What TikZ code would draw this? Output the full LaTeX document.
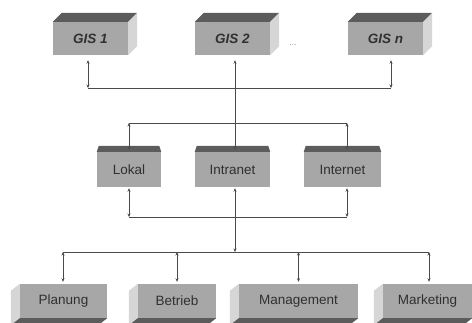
\documentclass[tikz,border=0pt]{standalone}
\usepackage{fontspec}
\setmainfont{Liberation Sans}
\usetikzlibrary{arrows.meta,calc}
\definecolor{frontc}{HTML}{A7A7A7}
\definecolor{darkc}{HTML}{5C5C5C}
\definecolor{lightc}{HTML}{D6D6D6}
\definecolor{textc}{HTML}{303030}
\definecolor{linec}{HTML}{4A4A4A}
\newcommand\gisfaces[1]{%
  \fill[darkc] (#1.north west) -- ++(9,-9) -- ([shift={(9,-9)}]#1.north east) -- (#1.north east) -- cycle;
  \fill[lightc] (#1.north east) -- ++(9,-9) -- ([shift={(9,-9)}]#1.south east) -- (#1.south east) -- cycle;}
\newcommand\midfaces[1]{%
  \fill[darkc] (#1.north west) -- ++(2,-6) -- ([shift={(-2,-6)}]#1.north east) -- (#1.north east) -- cycle;}
\newcommand\botfaces[1]{%
  \fill[lightc] (#1.north west) -- ++(-9,7) -- ([shift={(-9,7)}]#1.south west) -- (#1.south west) -- cycle;
  \fill[darkc] (#1.south west) -- (#1.south east) -- ++(-9,7) -- ([shift={(-9,7)}]#1.south west) -- cycle;}
\begin{document}
\begin{tikzpicture}[x=1pt,y=-1pt,
  face/.style={fill=frontc, inner sep=0pt, text=textc, font=\fontsize{13.5}{15}\selectfont},
  gis/.style={face, minimum height=33pt, minimum width=75pt, font=\fontsize{13.5}{15}\selectfont\bfseries\itshape},
  mid/.style={face, minimum height=35pt},
  bot/.style={face, minimum height=34pt},
  line/.style={draw=linec, line width=0.8pt},
  con/.style={line, {Stealth[length=3.5pt,width=3pt]}-{Stealth[length=3.5pt,width=3pt]}}]
\useasboundingbox (0,0) rectangle (472,322);
\clip (0,0) rectangle (472,322);
% top row
\node[gis] (g1) at (90.5,38.5) {GIS 1};
\node[gis] (g2) at (232.5,38.5) {GIS 2};
\node[gis] (gn) at (385.5,38.5) {GIS n};
\gisfaces{g1}\gisfaces{g2}\gisfaces{gn}
\node[text=gray, font=\fontsize{8}{9}\selectfont] (dots) at (293,45) {...};
% middle row
\node[mid, minimum width=64pt] (lok) at (129,169.5) {Lokal};
\node[mid, minimum width=75pt] (intra) at (232.5,169.5) {Intranet};
\node[mid, minimum width=77pt] (inter) at (342.5,169.5) {Internet};
\midfaces{lok}\midfaces{intra}\midfaces{inter}
% bottom row
\node[bot, minimum width=87pt] (plan) at (63.5,301) {Planung};
\node[bot, minimum width=78pt] (betr) at (177,301) {Betrieb};
\node[bot, minimum width=119pt] (man) at (298.5,301) {Management};
\node[bot, minimum width=89pt] (mark) at (427.5,301) {Marketing};
\botfaces{plan}\botfaces{betr}\botfaces{man}\botfaces{mark}
% coordinates
\coordinate (t1) at (88,88);
\coordinate (tn) at (391,88);
\coordinate (cc) at (235,88);
\coordinate (m1) at (129,123);
\coordinate (m2) at (347,123);
\coordinate (l1) at (129,217);
\coordinate (l2) at (347,217);
\coordinate (b1) at (63,252);
\coordinate (b2) at (429,252);
% top bus
\draw[line] (t1) -- (tn);
\draw[con, shorten <=5pt] (g1.south -| t1) -- (t1);
\draw[con, shorten <=5pt] (gn.south -| tn) -- (tn);
\draw[con, shorten <=5pt, shorten >=2pt] (g2.south -| cc) -- (intra.north -| cc);
% middle bus
\draw[line] (m1) -- (m2);
\draw[con, shorten >=2pt] (m1) -- (lok.north -| m1);
\draw[con, shorten >=2pt] (m2) -- (inter.north -| m2);
% lower bus
\draw[line] (l1) -- (l2);
\draw[con, shorten <=1pt] (lok.south -| l1) -- (l1);
\draw[con, shorten <=1pt] (inter.south -| l2) -- (l2);
\draw[con, shorten <=1pt] (intra.south -| cc) -- (cc |- b1);
% bottom bus
\draw[line] (b1) -- (b2);
\draw[con, shorten >=2pt] (b1) -- (plan.north -| b1);
\draw[con, shorten >=2pt] (b1 -| betr.north) -- (betr.north);
\draw[con, shorten >=2pt] (b1 -| man.north) -- (man.north);
\draw[con, shorten >=2pt] (b2) -- (mark.north -| b2);
\end{tikzpicture}
\end{document}
